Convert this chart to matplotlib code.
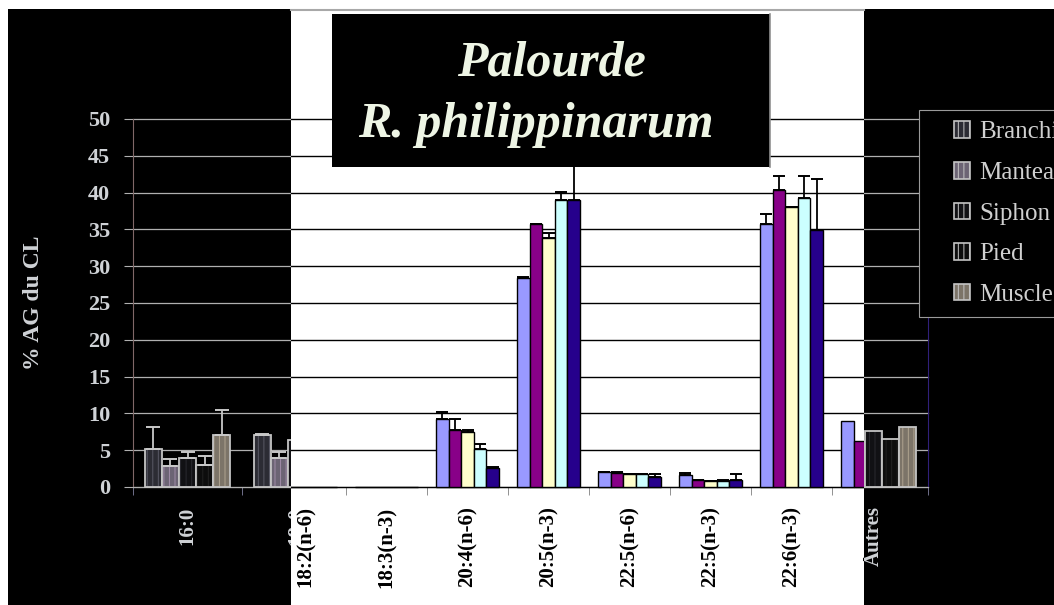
import matplotlib.pyplot as plt
import numpy as np
from matplotlib.patches import Rectangle
from matplotlib.lines import Line2D
from matplotlib.legend_handler import HandlerPatch
from matplotlib.transforms import Bbox, TransformedBbox

categories = ['16:0', '18:0', '18:2(n-6)', '18:3(n-3)', '20:4(n-6)', '20:5(n-3)',
              '22:5(n-6)', '22:5(n-3)', '22:6(n-3)', 'Autres']
tissues = ['Branchies', 'Manteau', 'Siphon', 'Pied', 'Muscle']

branchies = [5.2, 7.1, 0, 0, 9.2, 28.4, 2.0, 1.6, 35.7, 9.0]
manteau = [2.8, 3.9, 0, 0, 7.7, 35.7, 1.95, 0.95, 40.4, 6.3]
siphon = [4.0, 6.4, 0, 0, 7.5, 33.8, 1.7, 0.75, 38.0, 7.6]
pied = [3.0, 6.0, 0, 0, 5.2, 39.0, 1.7, 0.8, 39.3, 6.5]
muscle = [7.1, 5.5, 0, 0, 2.6, 39.0, 1.3, 1.0, 34.9, 8.1]

nan = np.nan
branchies_err = [2.9, 0.1, nan, nan, 1.0, 0.1, 0.05, 0.35, 1.4, nan]
manteau_err = [1.0, 0.8, nan, nan, 1.5, 0.1, 0.05, 0.05, 1.9, nan]
siphon_err = [0.8, nan, nan, nan, 0.2, 0.7, 0.05, 0.05, 0.1, nan]
pied_err = [1.2, nan, nan, nan, 0.6, 1.1, 0.05, 0.1, 2.9, nan]
muscle_err = [3.3, nan, nan, nan, 0.1, 6.0, 0.45, 0.75, 7.0, nan]

values = [branchies, manteau, siphon, pied, muscle]
errors = [branchies_err, manteau_err, siphon_err, pied_err, muscle_err]

light_faces = ['#9999ff', '#880088', '#ffffcc', '#ccffff', '#26008c']
dark_faces = ['#2c2c34', '#6c6474', '#111114', '#0d0d0d', '#7c7468']
dark_stripes = ['#5a5a66', '#a08ca8', '#2a2a30', '#222222', '#b0a490']

W, H = 1054, 605
plt.rcParams['font.family'] = ['Liberation Serif', 'DejaVu Serif']
plt.rcParams['hatch.linewidth'] = 0.7

fig = plt.figure(figsize=(W / 100, H / 100), dpi=100, facecolor='white')


def fig_rect(x0, y0, x1, y1, **kw):
    # box in pixels, origin top-left
    r = Rectangle((x0 / W, 1 - y1 / H), (x1 - x0) / W, (y1 - y0) / H,
                  transform=fig.transFigure, **kw)
    fig.add_artist(r)
    return r


# backgrounds: black slide with a white band in the middle
fig_rect(8, 9, W, H, facecolor='black', edgecolor='none', zorder=0)
fig_rect(291, 0, 864, H, facecolor='white', edgecolor='none', zorder=0.5)
fig.add_artist(Line2D([291 / W, 864 / W], [1 - 10 / H] * 2, color='#a8a8a8', lw=1.5,
                      transform=fig.transFigure, zorder=0.6))

ax_bottom = (H - 487) / H
ax_height = 368 / H


def make_ax(x0, x1):
    ax = fig.add_axes([x0 / W, ax_bottom, (x1 - x0) / W, ax_height])
    ax.set_zorder(2)
    return ax


ax_w = make_ax(103, 913)
ax_l = make_ax(133, 1223)
ax_r = make_ax(-162, 928)


def draw_chart(ax, dark):
    x = np.arange(len(categories))
    w = 0.78 / len(tissues)
    for i, (vals, errs) in enumerate(zip(values, errors)):
        xs = x + (i - 2) * w
        vals = np.array(vals, float)
        if dark:
            ax.bar(xs, vals, w, color=dark_faces[i], hatch='|||', edgecolor=dark_stripes[i],
                   linewidth=0, zorder=3)
            ax.bar(xs, vals, w, fill=False, edgecolor='#c4c4c4', linewidth=1.3, zorder=3)
        else:
            ax.bar(xs, vals, w, color=light_faces[i], edgecolor='black', linewidth=1.0, zorder=3)
        e = np.array(errs, float)
        ok = np.isfinite(e)
        ax.errorbar(xs[ok], vals[ok], yerr=[np.zeros(ok.sum()), e[ok]], fmt='none',
                    ecolor='#c8c8c8' if dark else 'black', elinewidth=1.3,
                    capsize=4.7 if dark else 4, capthick=1.4, zorder=4)

    fg = '#cfd2d6' if dark else 'black'
    grid = '#b0b0b0' if dark else 'black'
    ax.set_facecolor('black' if dark else 'white')
    ax.set_xlim(-0.5, len(categories) - 0.5)
    ax.set_ylim(0, 50)
    ax.set_xticks(x)
    ax.set_xticklabels(categories, rotation=90, fontsize=15, fontweight='bold', color=fg)
    ax.set_xticks(np.arange(len(categories) + 1) - 0.5, minor=True)
    ax.tick_params(axis='x', which='major', length=0, pad=14)
    ax.tick_params(axis='x', which='minor', length=6, direction='out',
                   color='#8080a0' if dark else '#808080')
    ticks = np.arange(0, 51, 5)
    ax.set_yticks(ticks, labels=[str(t) for t in ticks], fontsize=16, fontweight='bold', color=fg)
    ax.tick_params(axis='y', length=6.5, color=grid, pad=10)
    ax.yaxis.grid(True, color=grid, linewidth=0.9 if dark else 1.0)
    ax.set_axisbelow(True)
    ax.spines['top'].set_visible(False)
    ax.spines['bottom'].set_color(grid)
    ax.spines['left'].set_color('#806868')
    ax.spines['right'].set_color('#30207a')
    ax.spines['right'].set_visible(dark)


draw_chart(ax_w, False)
draw_chart(ax_l, True)
draw_chart(ax_r, True)
ax_w.tick_params(axis='y', labelleft=False)
ax_r.tick_params(axis='y', labelleft=False)

ax_l.set_ylabel('% AG du CL', fontsize=17, fontweight='bold', color='#cfd2d6')
ax_l.yaxis.set_label_coords((44 - 133) / 1090, 0.5)


def square_patch(legend, orig_handle, xdescent, ydescent, width, height, fontsize):
    return Rectangle((width - height - xdescent, -ydescent), height, height)


handles = [Rectangle((0, 0), 1, 1, facecolor=dark_faces[i], edgecolor='#c4c4c4',
                     hatch='|||', linewidth=1.2) for i in range(len(tissues))]
leg = ax_r.legend(handles, tissues, loc='upper left', bbox_to_anchor=(919 / W, 1 - 110 / H),
                  bbox_transform=fig.transFigure, fancybox=False, framealpha=1,
                  facecolor='black', edgecolor='#9a9a9a', fontsize=18, labelcolor='#d0d0d0',
                  handler_map={Rectangle: HandlerPatch(patch_func=square_patch)},
                  handlelength=1.6, handleheight=0.65, handletextpad=0.35,
                  borderpad=0.45, labelspacing=0.74, borderaxespad=0)
leg.get_frame().set_linewidth(0.8)


def clip_ax(ax, x0, x1):
    box = TransformedBbox(Bbox([[x0 / W, 0], [x1 / W, 1]]), fig.transFigure)
    arts = [ax.patch, *ax.patches, *ax.lines, *ax.collections, *ax.spines.values()]
    for axis in (ax.xaxis, ax.yaxis):
        for t in axis.get_major_ticks() + axis.get_minor_ticks():
            arts += [t.tick1line, t.tick2line, t.gridline, t.label1, t.label2]
    for a in arts:
        a.set_clip_path(None)
        a.set_clip_on(True)
        a.set_clip_box(box)
    # labels that fall wholly outside the visible band are dropped
    for t, xv in zip(ax.xaxis.get_major_ticks(), ax.get_xticks()):
        px = ax.transData.transform((xv, 0))[0]
        if px < x0 - 12 or px > x1 + 12:
            t.label1.set_visible(False)


clip_ax(ax_w, 291, 864)
clip_ax(ax_l, 8, 291)
clip_ax(ax_r, 864, W)

# title box
fig_rect(332, 14, 770, 167, facecolor='black', edgecolor='none', zorder=5)
fig.add_artist(Line2D([770 / W] * 2, [1 - 14 / H, 1 - 167 / H], color='#909090', lw=1.2,
                      transform=fig.transFigure, zorder=5))
fig.text(551 / W, 1 - 75 / H, 'Palourde', ha='center', va='baseline', fontsize=36,
         fontweight='bold', fontstyle='italic', color='#eef5e5', zorder=6)
fig.text(536 / W, 1 - 137 / H, 'R. philippinarum', ha='center', va='baseline', fontsize=36,
         fontweight='bold', fontstyle='italic', color='#eef5e5', zorder=6)

fig.savefig('out.png', dpi=100, facecolor='white')
